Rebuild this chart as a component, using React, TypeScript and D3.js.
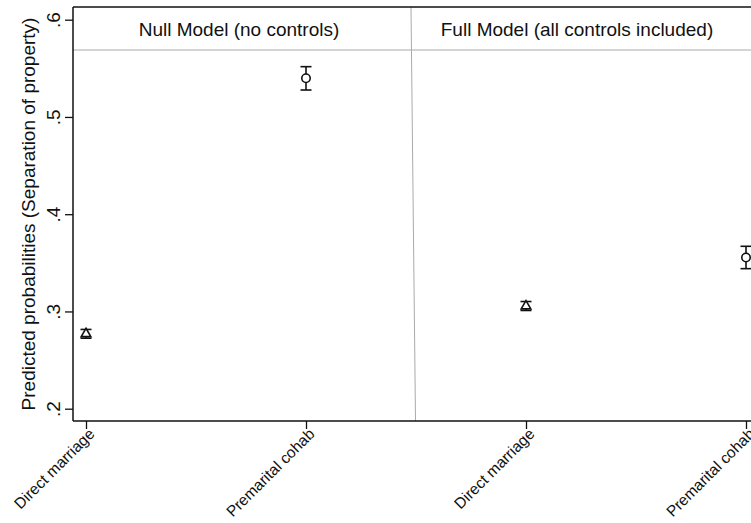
import * as d3 from "d3";
import { useRef, useEffect } from "react";

// panels and categories
const panelTitles = ["Null Model (no controls)", "Full Model (all controls included)"];
const categories = ["Direct marriage", "Premarital cohab", "Direct marriage", "Premarital cohab"];
const markerTypes = ["triangle", "circle", "triangle", "circle"];

// predicted probabilities with 95% CI
const estimates = [0.277, 0.5398, 0.3055, 0.3555];
const lowerCI = [0.2725, 0.5277, 0.301, 0.344];
const upperCI = [0.2815, 0.5517, 0.3102, 0.367];

const yTicks = [0.2, 0.3, 0.4, 0.5, 0.6];
const yTitle = "Predicted probabilities (Separation of property)";

export default function App() {
  const width = 751;
  const height = 523;
  const frameLeft = 73;
  const frameTop = 7;
  const frameBottom = 421;
  const headerBottom = 50;

  const gx = useRef<SVGGElement>(null);
  const gy = useRef<SVGGElement>(null);

  const x = d3.scalePoint<number>()
    .domain(d3.range(categories.length))
    .range([86, 746]);

  const y = d3.scaleLinear()
    .domain([0.2, 0.6])
    .range([408.7, 19.7]);

  const font = "'Liberation Sans', Arial, sans-serif";

  useEffect(() => {
    const ax = d3.select(gx.current!);
    ax.call(d3.axisBottom(x).tickSize(8).tickSizeOuter(0).tickFormat(i => categories[i]) as any);
    ax.select(".domain").remove();
    ax.selectAll(".tick line").attr("stroke", "#111").attr("stroke-width", 1.3);
    ax.selectAll(".tick text")
      .attr("font-family", font)
      .attr("font-size", 15.5)
      .attr("fill", "#111")
      .attr("text-anchor", "end")
      .attr("transform", "translate(9,14) rotate(-45)")
      .attr("x", 0)
      .attr("y", 0)
      .attr("dy", "0");

    const ay = d3.select(gy.current!);
    ay.call(d3.axisLeft(y).tickValues(yTicks).tickSize(8).tickSizeOuter(0)
      .tickFormat(d => d3.format(".1f")(d as number).replace(/^0/, "")) as any);
    ay.select(".domain").remove();
    ay.selectAll(".tick line").attr("stroke", "#111").attr("stroke-width", 1.3);
    ay.selectAll(".tick text")
      .attr("font-family", font)
      .attr("font-size", 19)
      .attr("fill", "#111")
      .attr("text-anchor", "middle")
      .attr("x", 0)
      .attr("dy", "0")
      .attr("transform", "translate(-13,0) rotate(-90)");
  }, []);

  const triangle = d3.symbol(d3.symbolTriangle, 40);

  return (
    <div style={{ position: "absolute", left: 0, top: 0 }}>
      <svg width={width} height={height} style={{ display: "block", background: "#fff" }}>
        <rect width={width} height={height} fill="#fff" />

        {/* panel divider and header strip */}
        <line x1={411} y1={frameTop} x2={415.5} y2={frameBottom} stroke="#aaa" strokeWidth={1} />
        <line x1={frameLeft} y1={headerBottom} x2={width} y2={headerBottom} stroke="#aaa" strokeWidth={1} />
        <line x1={frameLeft} y1={frameTop} x2={width} y2={frameTop} stroke="#111" strokeWidth={1.5} />
        <text x={239} y={36} textAnchor="middle" fontFamily={font} fontSize={19} fill="#111">
          {panelTitles[0]}
        </text>
        <text x={577} y={36} textAnchor="middle" fontFamily={font} fontSize={19} fill="#111">
          {panelTitles[1]}
        </text>

        {/* axes frame */}
        <line x1={frameLeft} y1={frameTop} x2={frameLeft} y2={frameBottom} stroke="#111" strokeWidth={1.5} />
        <line x1={frameLeft} y1={frameBottom} x2={width} y2={frameBottom} stroke="#111" strokeWidth={1.5} />
        <g ref={gx} transform={`translate(0,${frameBottom})`} />
        <g ref={gy} transform={`translate(${frameLeft},0)`} />

        <text
          transform={`translate(35,${(frameTop + frameBottom) / 2}) rotate(-90)`}
          textAnchor="middle"
          fontFamily={font}
          fontSize={19}
          fill="#111"
        >
          {yTitle}
        </text>

        {/* estimates with confidence intervals */}
        <g stroke="#111" strokeWidth={1.6} fill="none">
          {estimates.map((d, i) => {
            const cx = x(i)!;
            return (
              <g key={i}>
                <line x1={cx} x2={cx} y1={y(lowerCI[i])} y2={y(upperCI[i])} />
                <line x1={cx - 5.5} x2={cx + 5.5} y1={y(lowerCI[i])} y2={y(lowerCI[i])} />
                <line x1={cx - 5.5} x2={cx + 5.5} y1={y(upperCI[i])} y2={y(upperCI[i])} />
                {markerTypes[i] === "circle" ? (
                  <circle cx={cx} cy={y(d)} r={4.2} fill="#fff" />
                ) : (
                  <path d={triangle()!} transform={`translate(${cx},${y(d)})`} fill="#fff" />
                )}
              </g>
            );
          })}
        </g>
      </svg>
    </div>
  );
}
